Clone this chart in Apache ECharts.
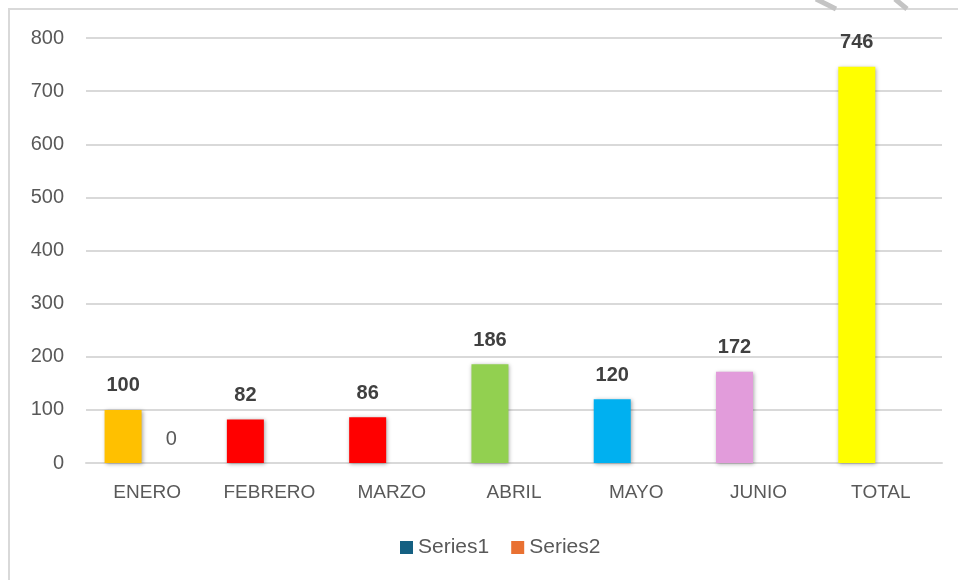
<!DOCTYPE html>
<html>
<head>
<meta charset="utf-8">
<script src="https://cdn.jsdelivr.net/npm/echarts@6/dist/echarts.min.js"></script>
<style>
	html, body { margin: 0; padding: 0; background: #fff; }
	#main { width: 958px; height: 580px; }
</style>
</head>
<body>
<div id="main"></div>
<script>
// datos
var categories = ['ENERO', 'FEBRERO', 'MARZO', 'ABRIL', 'MAYO', 'JUNIO', 'TOTAL'];
var series1 = [100, 82, 86, 186, 120, 172, 746];
var series2 = [0, null, null, null, null, null, null];
var yTicks = [0, 100, 200, 300, 400, 500, 600, 700, 800];

var barColors = ['#FFC000', '#FF0000', '#FF0000', '#92D050', '#00B0F0', '#E29CDB', '#FFFF00'];

var myChart = echarts.init(document.getElementById('main'));

var option = {
	backgroundColor: '#fff',
	animation: false,
	textStyle: { fontFamily: 'Liberation Sans' },
	grid: {
		top: 38,
		left: 86,
		right: 16,
		bottom: 117
	},
	// marco y trazos grises de la captura
	graphic: [
		{
			type: 'rect',
			shape: { x: 9, y: 9, width: 1000, height: 700 },
			style: { fill: 'none', stroke: '#d9d9d9', lineWidth: 2 },
			silent: true
		},
		{
			type: 'line',
			shape: { x1: 816, y1: -1, x2: 836, y2: 9 },
			style: { stroke: '#c4c4c4', lineWidth: 5 },
			silent: true
		},
		{
			type: 'line',
			shape: { x1: 895, y1: -1, x2: 907, y2: 9 },
			style: { stroke: '#c4c4c4', lineWidth: 5 },
			silent: true
		}
	],
	legend: {
		bottom: 17,
		left: 395,
		icon: 'rect',
		itemWidth: 13,
		itemHeight: 13,
		itemGap: 22,
		textStyle: { color: '#595959', fontSize: 21 },
		data: [
			{ name: 'Series1', itemStyle: { color: '#156082' } },
			{ name: 'Series2', itemStyle: { color: '#E97132' } }
		]
	},
	xAxis: {
		type: 'category',
		data: categories,
		axisLine: { show: true, lineStyle: { color: '#d9d9d9', width: 2 } },
		axisTick: { show: false },
		axisLabel: { color: '#595959', fontSize: 19, margin: 20 }
	},
	yAxis: {
		type: 'value',
		min: yTicks[0],
		max: yTicks[yTicks.length - 1],
		interval: 100,
		axisLine: { show: false },
		axisTick: { show: false },
		axisLabel: { color: '#595959', fontSize: 20, margin: 22 },
		splitLine: { lineStyle: { color: '#d9d9d9', width: 2 } }
	},
	series: [
		{
			name: 'Series1',
			type: 'bar',
			barWidth: 37,
			barGap: '30%',
			data: series1.map(function (v, i) {
				return { value: v, itemStyle: { color: barColors[i] } };
			}),
			itemStyle: {
				shadowBlur: 4,
				shadowColor: 'rgba(0,0,0,0.35)',
				shadowOffsetX: 1,
				shadowOffsetY: 1
			},
			label: {
				show: true,
				position: 'top',
				distance: 14,
				color: '#404040',
				fontSize: 20,
				fontWeight: 'bold'
			}
		},
		{
			name: 'Series2',
			type: 'bar',
			barWidth: 37,
			data: series2,
			itemStyle: { color: '#E97132' },
			label: {
				show: true,
				position: 'top',
				distance: 14,
				color: '#595959',
				fontSize: 20
			}
		}
	]
};

myChart.setOption(option);
</script>
</body>
</html>
